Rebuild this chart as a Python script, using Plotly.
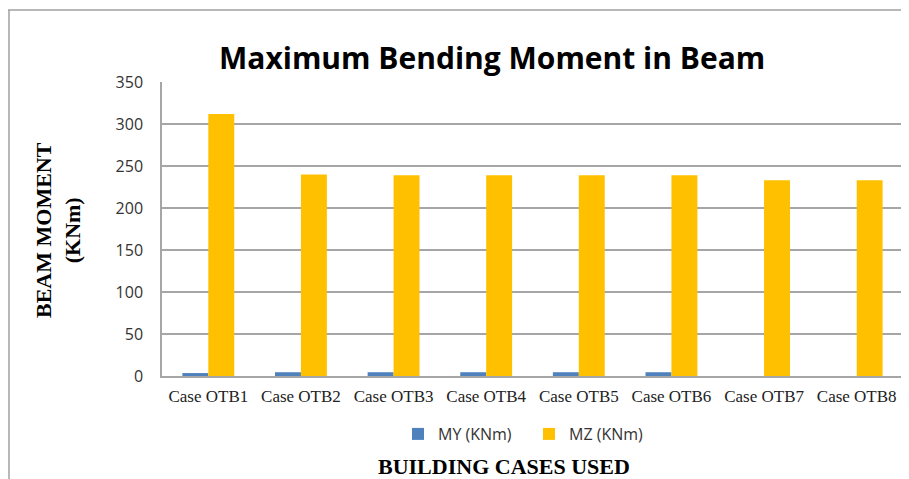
import plotly.graph_objects as go

categories = ["Case OTB1", "Case OTB2", "Case OTB3", "Case OTB4",
              "Case OTB5", "Case OTB6", "Case OTB7", "Case OTB8"]
my_values = [3.5, 4.5, 4.5, 4.5, 4.5, 4.5, 0, 0]
mz_values = [312, 240, 239, 239, 239, 239, 233, 233]
y_ticks = [0, 50, 100, 150, 200, 250, 300, 350]

fig = go.Figure()
fig.add_trace(go.Bar(x=categories, y=my_values, name="MY (KNm)",
                     marker=dict(color="#4F81BD", line=dict(width=0))))
fig.add_trace(go.Bar(x=categories, y=mz_values, name="MZ (KNm)",
                     marker=dict(color="#FFC000", line=dict(width=0))))

# page body has an 8px margin; work in reference coordinates and shift
OFF = 8
W, H = 909 - OFF, 479 - OFF
L, R, T, B = 162 - OFF, 6, 82 - OFF, 103
pw, ph = W - L - R, H - T - B

def px(x):
    return (x - OFF - L) / pw

def py(y):
    return (H - B - (y - OFF)) / ph

fig.update_layout(
    width=W, height=H,
    margin=dict(l=L, r=R, t=T, b=B),
    paper_bgcolor="white", plot_bgcolor="white",
    barmode="group", bargap=0.44, bargroupgap=0,
    showlegend=True,
    legend=dict(orientation="h", x=px(398), xanchor="left", y=py(434), yanchor="middle",
                font=dict(family="Open Sans, Arial", size=16, color="#333333"),
                itemwidth=30, entrywidth=86, entrywidthmode="pixels", traceorder="normal"),
    xaxis=dict(showline=True, linecolor="#A6A6A6", linewidth=1.5, ticks="", tickangle=0,
               tickfont=dict(family="Liberation Serif, Times New Roman", size=17, color="#222222"),
               ticklabelstandoff=4, showgrid=False),
    yaxis=dict(range=[0, 350], tickvals=y_ticks, showline=True, linecolor="#A6A6A6", linewidth=1.5,
               showgrid=True, gridcolor="#A6A6A6", gridwidth=1.5, ticks="",
               tickfont=dict(family="Open Sans, Arial", size=16, color="#333333"),
               ticklabelstandoff=14, zeroline=False),
    annotations=[
        dict(text="<b>Maximum Bending Moment in Beam</b>", x=px(492), y=py(57),
             xref="paper", yref="paper", showarrow=False,
             font=dict(family="Open Sans, Arial", size=30, color="black"),
             xanchor="center", yanchor="middle"),
        dict(text="<b>BEAM MOMENT<br>(KNm)</b>", x=px(58), y=py(230),
             xref="paper", yref="paper", showarrow=False, textangle=-90,
             font=dict(family="Liberation Serif, Times New Roman", size=22, color="black"),
             xanchor="center", yanchor="middle"),
        dict(text="<b>BUILDING CASES USED</b>", x=px(504), y=py(466),
             xref="paper", yref="paper", showarrow=False,
             font=dict(family="Liberation Serif, Times New Roman", size=22, color="black"),
             xanchor="center", yanchor="middle"),
    ],
    shapes=[
        dict(type="line", xref="paper", yref="paper", x0=px(0), x1=px(909), y0=py(10), y1=py(10),
             line=dict(color="#A0A0A0", width=1.5)),
        dict(type="line", xref="paper", yref="paper", x0=px(9), x1=px(9), y0=py(10), y1=py(479),
             line=dict(color="#A0A0A0", width=1.5)),
    ],
)

fig.write_html("out.html")
